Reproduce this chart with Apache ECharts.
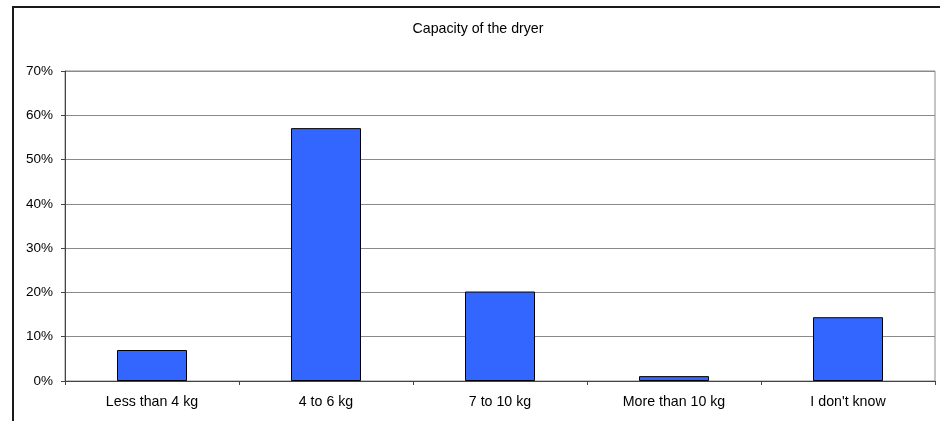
<!DOCTYPE html>
<html>
<head>
<meta charset="utf-8">
<script src="https://cdn.jsdelivr.net/npm/echarts@6/dist/echarts.min.js"></script>
<style>html,body{margin:0;padding:0;background:#fff;}#c{width:940px;height:421px;}</style>
</head>
<body>
<div id="c"></div>
<script>
const titleText = "Capacity of the dryer";
const categories = ["Less than 4 kg", "4 to 6 kg", "7 to 10 kg", "More than 10 kg", "I don't know"];
const values = [7.0, 57.1, 20.2, 1.1, 14.4];
const yTicks = [0, 10, 20, 30, 40, 50, 60, 70];

const chart = echarts.init(document.getElementById('c'), null, {renderer: 'canvas'});
const font = "Liberation Sans, Arial, sans-serif";
chart.setOption({
  animation: false,
  backgroundColor: '#fff',
  title: {
    text: titleText, left: 473, top: 17, textAlign: 'center',
    textStyle: {fontFamily: font, fontSize: 14.2, fontWeight: 'normal', color: '#000'}
  },
  graphic: [{
    type: 'rect', shape: {x: 13, y: 7, width: 1000, height: 1000},
    style: {fill: 'none', stroke: '#1a1a1a', lineWidth: 2}, silent: true
  }],
  grid: {left: 65, top: 71, right: 5, bottom: 40, show: true, borderColor: '#8a8a8a', borderWidth: 1, containLabel: false},
  xAxis: {
    type: 'category', data: categories,
    axisLine: {lineStyle: {color: '#444', width: 1}},
    axisTick: {show: true, length: 4, alignWithLabel: false, lineStyle: {color: '#444'}},
    axisLabel: {fontFamily: font, fontSize: 14.2, color: '#000', margin: 14}
  },
  yAxis: {
    type: 'value', min: yTicks[0], max: yTicks[yTicks.length - 1], interval: 10,
    axisLine: {show: true, lineStyle: {color: '#444', width: 1}},
    axisTick: {show: true, length: 4, lineStyle: {color: '#444'}},
    axisLabel: {fontFamily: font, fontSize: 13.5, color: '#000', margin: 12, formatter: v => v + '%'},
    splitLine: {show: true, lineStyle: {color: '#8a8a8a', width: 1}}
  },
  series: [{
    type: 'bar', data: values, barWidth: 70,
    itemStyle: {color: '#3366FF', borderColor: '#000', borderWidth: 1}
  }]
});
</script>
</body>
</html>
